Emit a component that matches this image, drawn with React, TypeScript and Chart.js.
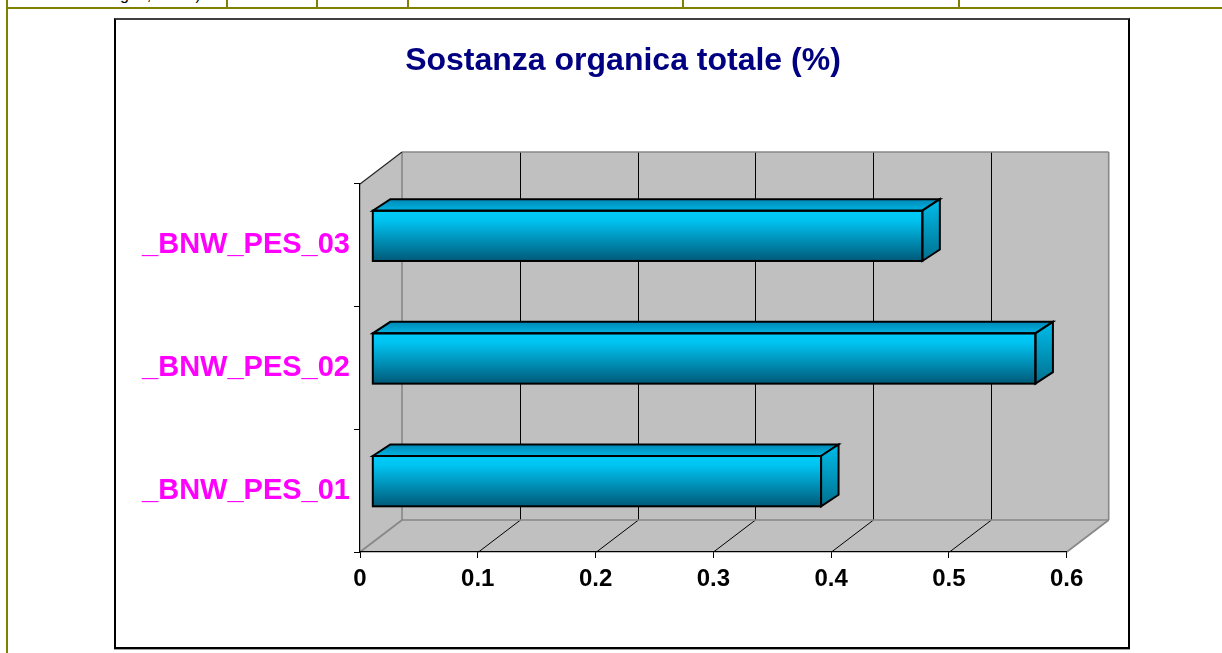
import React, { useEffect, useRef } from 'react';
import { Chart, registerables } from 'chart.js';

Chart.register(...registerables);

// ---- data ----
const categories = ['_BNW_PES_01', '_BNW_PES_02', '_BNW_PES_03'];
const values = [0.381, 0.563, 0.467];
const xTickLabels = ['0', '0.1', '0.2', '0.3', '0.4', '0.5', '0.6'];
const xMin = 0;
const xMax = 0.6;
const xStep = 0.1;
const chartTitle = 'Sostanza organica totale (%)';

// ---- style ----
const FONT = 'Arial, "Liberation Sans", Helvetica, sans-serif';
const WALL_DX = 42;
const WALL_DY = -32;
const BAR_OX = 12.3;
const BAR_OY = -9.5;
const BAR_DX = 17.5;
const BAR_DY = -11.5;
const BAR_PCT = 0.41;
const WALL_FILL = '#C0C0C0';
const WALL_EDGE = '#878787';
const TITLE_CENTER_X = 623;

function poly(ctx: CanvasRenderingContext2D, pts: number[][]) {
  ctx.beginPath();
  ctx.moveTo(pts[0][0], pts[0][1]);
  for (let i = 1; i < pts.length; i++) ctx.lineTo(pts[i][0], pts[i][1]);
  ctx.closePath();
}
function seg(ctx: CanvasRenderingContext2D, x1: number, y1: number, x2: number, y2: number) {
  ctx.beginPath();
  ctx.moveTo(x1, y1);
  ctx.lineTo(x2, y2);
  ctx.stroke();
}

const threeD = {
  id: 'threeD',
  afterLayout(chart: any) {
    const tb = chart.titleBlock;
    if (tb) {
      const shift = TITLE_CENTER_X - (tb.left + tb.right) / 2;
      tb.left += shift;
      tb.right += shift;
    }
  },
  beforeDraw(chart: any) {
    const { ctx, chartArea } = chart;
    const { left, right, top, bottom } = chartArea;
    const xs = chart.scales.x;
    const DX = WALL_DX, DY = WALL_DY;
    ctx.save();
    ctx.fillStyle = WALL_FILL;
    poly(ctx, [[left, top], [left + DX, top + DY], [left + DX, bottom + DY], [left, bottom]]);
    ctx.fill();
    ctx.fillRect(left + DX, top + DY, right - left, bottom - top);
    poly(ctx, [[left, bottom], [right, bottom], [right + DX, bottom + DY], [left + DX, bottom + DY]]);
    ctx.fill();

    // grid lines on back wall and floor
    ctx.strokeStyle = '#000';
    ctx.lineWidth = 1;
    xs.ticks.forEach((t: any) => {
      if (t.value <= xMin + 1e-9 || t.value >= xMax - 1e-9) return;
      const px = Math.round(xs.getPixelForValue(t.value)) + 0.5;
      seg(ctx, px + DX, top + DY, px + DX, bottom + DY);
      seg(ctx, px, bottom, px + DX, bottom + DY);
    });

    // wall edges
    ctx.strokeStyle = WALL_EDGE;
    ctx.lineWidth = 1.6;
    seg(ctx, left + DX, top + DY, right + DX, top + DY);
    seg(ctx, right + DX, top + DY, right + DX, bottom + DY);
    seg(ctx, left + DX, bottom + DY, right + DX, bottom + DY);
    seg(ctx, left + DX, top + DY, left + DX, bottom + DY);
    seg(ctx, left, bottom, left + DX, bottom + DY);
    seg(ctx, right, bottom, right + DX, bottom + DY);
    ctx.strokeStyle = '#222';
    ctx.lineWidth = 1.2;
    seg(ctx, left, top, left + DX, top + DY);
    ctx.restore();
  },
  beforeDatasetsDraw(chart: any) {
    chart.ctx.save();
    chart.ctx.translate(BAR_OX, BAR_OY);
  },
  afterDatasetsDraw(chart: any) {
    const ctx = chart.ctx;
    ctx.restore();
    const meta = chart.getDatasetMeta(0);
    ctx.save();
    ctx.lineWidth = 2;
    ctx.strokeStyle = '#000';
    ctx.lineJoin = 'miter';
    meta.data.forEach((el: any) => {
      const p = el.getProps(['x', 'y', 'base', 'height'], true);
      const l = Math.min(p.base, p.x) + BAR_OX;
      const r = Math.max(p.base, p.x) + BAR_OX;
      const t = p.y - p.height / 2 + BAR_OY;
      const b = p.y + p.height / 2 + BAR_OY;
      // top face
      const gt = ctx.createLinearGradient(0, t + BAR_DY, 0, t);
      gt.addColorStop(0, '#0088B6');
      gt.addColorStop(1, '#00B4E2');
      ctx.fillStyle = gt;
      poly(ctx, [[l, t], [r, t], [r + BAR_DX, t + BAR_DY], [l + BAR_DX, t + BAR_DY]]);
      ctx.fill();
      ctx.stroke();
      // right face
      const gr = ctx.createLinearGradient(0, t + BAR_DY, 0, b);
      gr.addColorStop(0, '#00BDEB');
      gr.addColorStop(1, '#00708F');
      ctx.fillStyle = gr;
      poly(ctx, [[r, t], [r + BAR_DX, t + BAR_DY], [r + BAR_DX, b + BAR_DY], [r, b]]);
      ctx.fill();
      ctx.stroke();
      // front outline
      ctx.strokeRect(l, t, r - l, b - t);
    });
    ctx.restore();
  },
};

export default function App() {
  const canvasRef = useRef<HTMLCanvasElement | null>(null);

  useEffect(() => {
    const canvas = canvasRef.current;
    if (!canvas) return;
    const chart = new Chart(canvas, {
      type: 'bar',
      data: {
        labels: categories,
        datasets: [
          {
            data: values,
            backgroundColor: (c: any) => {
              const ch = c.chart;
              const ys = ch.scales && ch.scales.y;
              if (!ys || !ch.chartArea || c.dataIndex === undefined) return '#00B8E8';
              const yc = ys.getPixelForValue(c.dataIndex);
              const h = (ys.height / categories.length) * BAR_PCT;
              const g = ch.ctx.createLinearGradient(0, yc - h / 2, 0, yc + h / 2);
              g.addColorStop(0, '#00CCFA');
              g.addColorStop(0.18, '#00C4F2');
              g.addColorStop(1, '#005A79');
              return g;
            },
            borderWidth: 0,
            barPercentage: BAR_PCT,
            categoryPercentage: 1,
          },
        ],
      },
      options: {
        indexAxis: 'y',
        responsive: false,
        animation: false,
        devicePixelRatio: 1,
        layout: { padding: { left: 120, right: 155.3, top: 0, bottom: 0 } },
        plugins: {
          legend: { display: false },
          tooltip: { enabled: false },
          title: {
            display: true,
            text: chartTitle,
            color: '#000080',
            font: { family: FONT, size: 32, weight: 'bold' },
            padding: { top: 42, bottom: 103.6 },
          },
        },
        scales: {
          x: {
            type: 'linear',
            min: xMin,
            max: xMax,
            afterFit: (s: any) => {
              s.height = 101;
            },
            ticks: {
              stepSize: xStep,
              color: '#000',
              font: { family: FONT, size: 24, weight: 'bold' },
              padding: 7,
              maxRotation: 0,
              autoSkip: false,
              callback: (_v: any, i: number) => xTickLabels[i],
            },
            grid: { drawOnChartArea: false, drawTicks: true, tickLength: 6, color: '#000', lineWidth: 1 },
            border: { display: true, color: '#000', width: 1.2 },
          },
          y: {
            type: 'category',
            reverse: true,
            afterFit: (s: any) => {
              s.width = 240;
            },
            ticks: {
              color: '#FF00FF',
              font: { family: FONT, size: 29, weight: 'bold' },
              padding: 4,
              autoSkip: false,
            },
            grid: { offset: true, drawOnChartArea: false, drawTicks: true, tickLength: 6, color: '#000', lineWidth: 1 },
            border: { display: true, color: '#000', width: 1.2 },
          },
        },
      },
      plugins: [threeD],
    } as any);
    return () => chart.destroy();
  }, []);

  const olive = '#808000';
  const vlines = [226, 316, 407, 682, 958];

  return (
    <div
      style={{
        position: 'absolute',
        left: 0,
        top: 0,
        width: 1222,
        height: 653,
        overflow: 'hidden',
        background: '#fff',
      }}
    >
      <div style={{ position: 'absolute', left: 6, top: 7, width: 1216, height: 2, background: olive }} />
      <div style={{ position: 'absolute', left: 6, top: 0, width: 2, height: 653, background: olive }} />
      {vlines.map((x) => (
        <div key={x} style={{ position: 'absolute', left: x, top: 0, width: 2, height: 8, background: olive }} />
      ))}
      <div
        style={{
          position: 'absolute',
          left: 120,
          top: -14,
          font: '16px Arial, "Liberation Sans", sans-serif',
          color: '#000',
          whiteSpace: 'pre',
          height: 21,
          overflow: 'hidden',
        }}
      >
        {'gno,          )'}
      </div>
      <div
        style={{
          position: 'absolute',
          left: 114,
          top: 18,
          width: 1016,
          height: 631,
          boxSizing: 'border-box',
          border: '2px solid #000',
          borderTopColor: '#404040',
          boxShadow: '0 1px 0 #a0a0a0',
          background: '#fff',
        }}
      />
      <canvas
        ref={canvasRef}
        width={1222}
        height={653}
        style={{ position: 'absolute', left: 0, top: 0, width: 1222, height: 653 }}
      />
    </div>
  );
}
